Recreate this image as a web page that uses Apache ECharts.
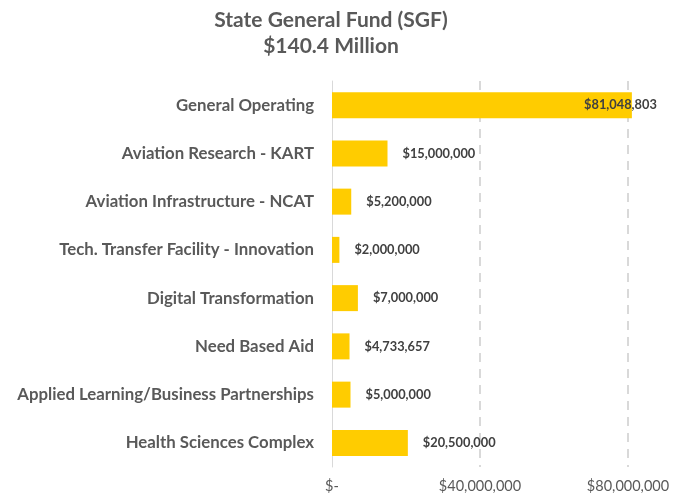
<!DOCTYPE html>
<html>
<head>
<meta charset="utf-8">
<script src="https://cdn.jsdelivr.net/npm/echarts@6/dist/echarts.min.js"></script>
<style>html,body{margin:0;padding:0;background:#fff;}#c{width:682px;height:498px;}</style>
</head>
<body>
<div id="c"></div>
<script>
var titleLines = ["State General Fund (SGF)", "$140.4 Million"];
var categories = [
  "General Operating",
  "Aviation Research - KART",
  "Aviation Infrastructure - NCAT",
  "Tech. Transfer Facility - Innovation",
  "Digital Transformation",
  "Need Based Aid",
  "Applied Learning/Business Partnerships",
  "Health Sciences Complex"
];
var values = [81048803, 15000000, 5200000, 2000000, 7000000, 4733657, 5000000, 20500000];
var axisMin = 0, axisMax = 90000000, axisInterval = 40000000;

function money(v) { return v === 0 ? "$-" : "$" + Math.round(v).toLocaleString("en-US"); }

var FONT = "Lato, 'Open Sans', sans-serif";
var chart = echarts.init(document.getElementById("c"), null, {renderer: "canvas"});
var seriesData = values.map(function (v, i) {
  var d = {value: v};
  if (i === 0) d.label = {position: "insideRight", distance: -25};
  return d;
});
chart.setOption({
  animation: false,
  backgroundColor: "#ffffff",
  title: {
    text: titleLines.join("\n"),
    left: 326, top: 2, textAlign: "center",
    textStyle: {fontFamily: FONT, fontSize: 21, fontWeight: "bold", color: "#595959", lineHeight: 26}
  },
  grid: {left: 332, right: 17, top: 81, bottom: 31, containLabel: false},
  xAxis: {
    type: "value", min: axisMin, max: axisMax, interval: axisInterval,
    axisLine: {show: false}, axisTick: {show: false},
    axisLabel: {
      showMaxLabel: false, margin: 12,
      fontFamily: FONT, fontSize: 14.5, color: "#595959",
      formatter: function (v) { return v % axisInterval === 0 ? money(v) : ""; }
    },
    splitLine: {show: true, showMinLine: false, showMaxLine: false,
      lineStyle: {color: "#d9d9d9", width: 2, type: [9, 7]}}
  },
  yAxis: {
    type: "category", data: categories, inverse: true,
    axisLine: {show: true, lineStyle: {color: "#d9d9d9", width: 1}},
    axisTick: {show: false},
    axisLabel: {margin: 18, fontFamily: FONT, fontSize: 16.8, fontWeight: "bold", color: "#595959"}
  },
  series: [{
    type: "bar", data: seriesData, barWidth: 26,
    itemStyle: {color: "#FFCC00"},
    label: {
      show: true, position: "right", distance: 15,
      fontFamily: FONT, fontSize: 12.8, fontWeight: "bold", color: "#404040",
      formatter: function (p) { return money(p.value); }
    }
  }]
});
</script>
</body>
</html>
